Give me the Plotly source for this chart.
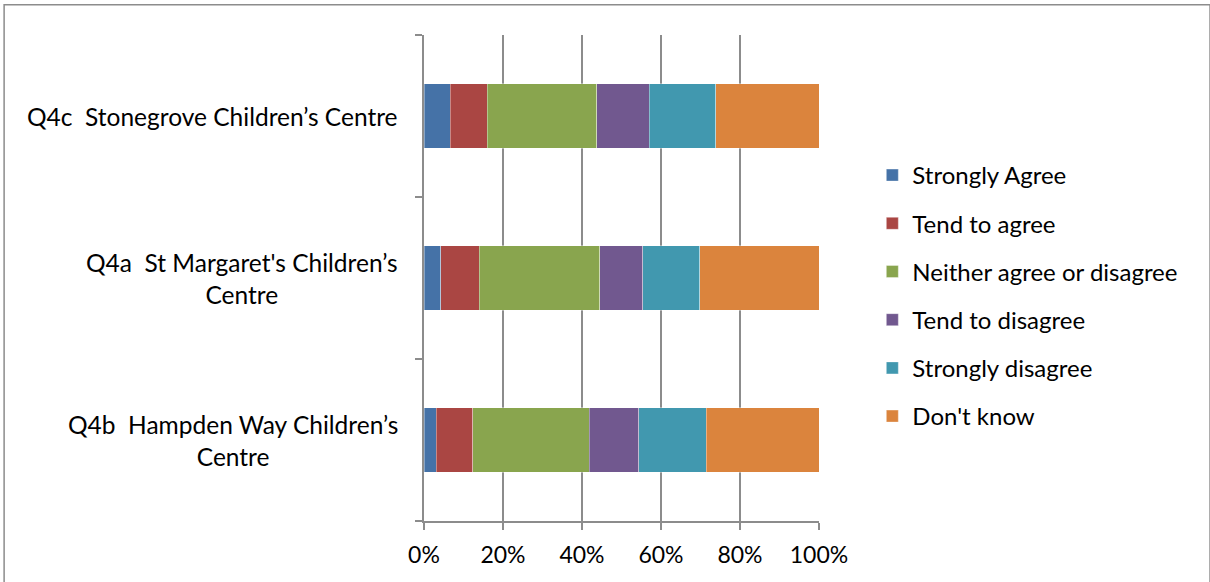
import plotly.graph_objects as go

categories = ["Q4b  Hampden Way Children’s<br>Centre",
              "Q4a  St Margaret's Children’s<br>Centre",
              "Q4c  Stonegrove Children’s Centre"]
series_names = ["Strongly Agree", "Tend to agree", "Neither agree or disagree",
                "Tend to disagree", "Strongly disagree", "Don't know"]
strongly_agree = [3.1, 4.3, 6.6]
tend_to_agree = [9.3, 9.7, 9.4]
neither = [29.4, 30.5, 27.7]
tend_to_disagree = [12.6, 10.9, 13.3]
strongly_disagree = [17.0, 14.4, 16.9]
dont_know = [28.6, 30.2, 26.1]
colors = ["#4572A7", "#AA4643", "#89A54E", "#71588F", "#4198AF", "#DB843D"]
x_ticks = [0, 20, 40, 60, 80, 100]
x_tick_labels = ["0%", "20%", "40%", "60%", "80%", "100%"]

values = [strongly_agree, tend_to_agree, neither, tend_to_disagree, strongly_disagree, dont_know]
FONT = "Lato, 'Open Sans', sans-serif"

fig = go.Figure()
for name, vals, c in zip(series_names, values, colors):
    fig.add_trace(go.Bar(
        y=categories, x=vals, name=name, orientation="h",
        marker=dict(color=c, line=dict(color="rgba(255,255,255,0.6)", width=0.6)),
        legendgroup=name,
    ))

for cat in categories:
    fig.add_annotation(x=-0.06, xref="paper", y=cat, yref="y", text=cat,
                       showarrow=False, xanchor="right", align="center",
                       font=dict(family=FONT, size=24.5, color="#000000"))

fig.update_layout(
    barmode="stack", bargap=0.6,
    width=1210, height=582,
    margin=dict(l=424, r=391, t=35, b=61),
    paper_bgcolor="white", plot_bgcolor="white",
    font=dict(family=FONT, size=23, color="#000000"),
    showlegend=True,
    legend=dict(x=1.135, xanchor="left", y=0.463, yanchor="middle",
                font=dict(family=FONT, size=24), tracegroupgap=14,
                traceorder="grouped", itemwidth=30),
    xaxis=dict(range=[0, 100], tickvals=x_ticks, ticktext=x_tick_labels,
               showgrid=True, gridcolor="#8c8c8c", gridwidth=1.5,
               showline=True, linecolor="#8c8c8c", linewidth=1.5,
               ticks="outside", ticklen=7, tickcolor="#8c8c8c", tickwidth=1.5,
               ticklabelstandoff=6,
               zeroline=False, fixedrange=True),
    yaxis=dict(type="category", categoryorder="array", categoryarray=categories,
               showticklabels=False, showline=True, linecolor="#8c8c8c", linewidth=1.5,
               ticks="outside", tickson="boundaries", ticklen=7, tickcolor="#8c8c8c",
               tickwidth=1.5, showgrid=False, zeroline=False),
    shapes=[dict(type="rect", xref="paper", yref="paper",
                 x0=-1.063, x1=1.99, y0=-0.2, y1=1.062,
                 line=dict(color="#8c8c8c", width=1.5), fillcolor="rgba(0,0,0,0)")],
)

fig.write_html("out.html")
